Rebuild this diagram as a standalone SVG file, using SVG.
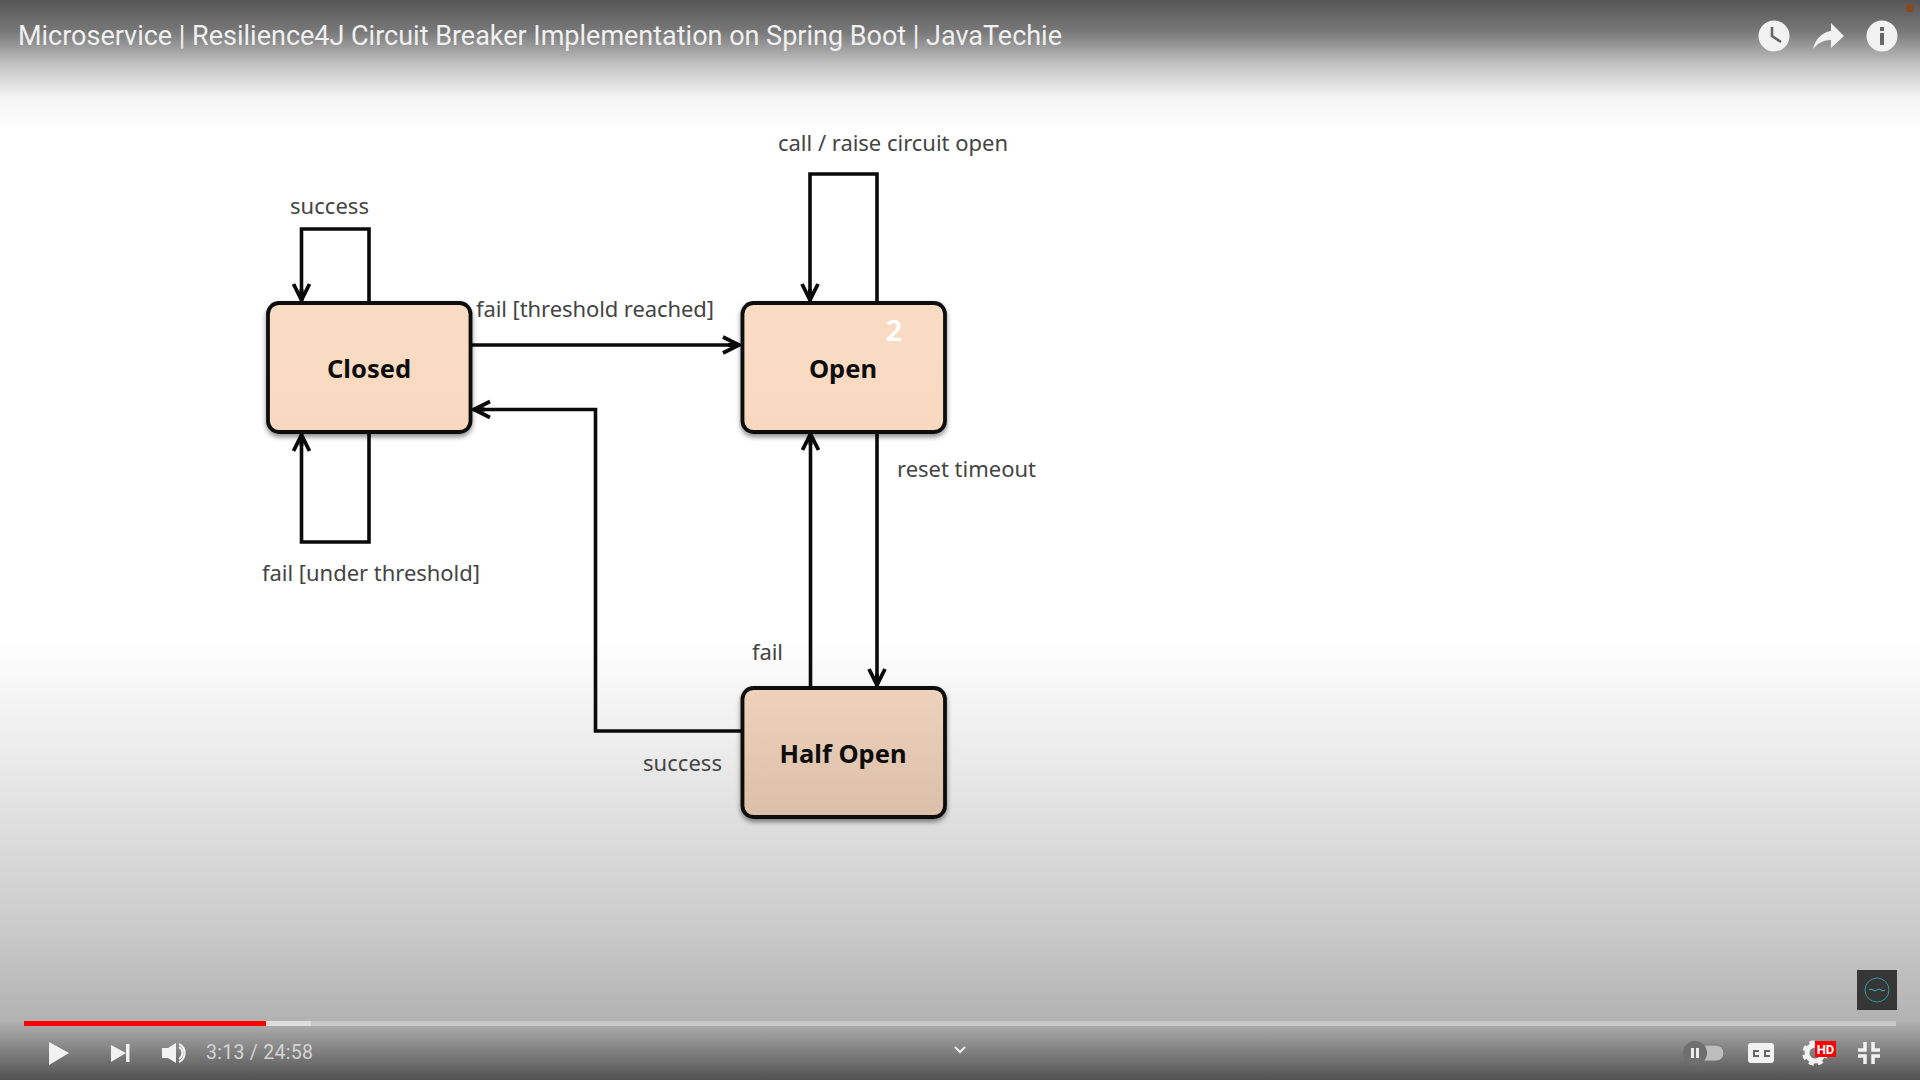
<svg xmlns="http://www.w3.org/2000/svg" width="1920" height="1080" viewBox="0 0 1920 1080">
<defs>
<linearGradient id="bg" x1="0" y1="0" x2="0" y2="1080" gradientUnits="userSpaceOnUse">
<stop offset="0" stop-color="#555"/>
<stop offset="0.03" stop-color="#7a7a7a"/>
<stop offset="0.06" stop-color="#c4c4c4"/>
<stop offset="0.09" stop-color="#f4f4f4"/>
<stop offset="0.12" stop-color="#fff"/>
<stop offset="0.59" stop-color="#fff"/>
<stop offset="0.7" stop-color="#ebebeb"/>
<stop offset="0.85" stop-color="#cdcdcd"/>
<stop offset="0.945" stop-color="#b2b2b2"/>
<stop offset="1" stop-color="#525252"/>
</linearGradient>
<linearGradient id="fill1" x1="0" y1="0" x2="0" y2="1"><stop offset="0" stop-color="#fadcc4"/><stop offset="1" stop-color="#f8d9c0"/></linearGradient>
<linearGradient id="fill2" x1="0" y1="0" x2="0" y2="1"><stop offset="0" stop-color="#efd2bb"/><stop offset="1" stop-color="#dcbfa9"/></linearGradient>
<filter id="sh" x="-10%" y="-10%" width="120%" height="125%"><feDropShadow dx="0" dy="3" stdDeviation="2.5" flood-color="#000" flood-opacity="0.45"/></filter>
<marker id="arr" markerUnits="userSpaceOnUse" markerWidth="24" markerHeight="22" refX="20" refY="11" orient="auto">
<path d="M3 3 L19 11 L3 19 M19 11 L8 11" fill="none" stroke="#0a0a0a" stroke-width="3.8"/>
</marker>
</defs>
<style>
.box{stroke:#0d0d0d;stroke-width:3.8;filter:url(#sh)}
.conn{fill:none;stroke:#0a0a0a;stroke-width:3.6}
.lbl{font-family:"Noto Sans","Open Sans",sans-serif;font-size:22px;fill:#444}
.name{font-family:"Noto Sans","Open Sans",sans-serif;font-size:25.500px;font-weight:700;fill:#0d0d0d;text-anchor:middle}
.ui{font-family:Roboto,"Liberation Sans",sans-serif}
.ic{fill:#f2f2f2}
</style>
<rect id="background" width="1920" height="1080" fill="url(#bg)"/>

<g id="connectors">
<path class="conn" marker-end="url(#arr)" d="M369 303 V229 H301.500 V301"/>
<path class="conn" marker-end="url(#arr)" d="M369 432 V542 H301.500 V434"/>
<path class="conn" marker-end="url(#arr)" d="M471 345 H740"/>
<path class="conn" marker-end="url(#arr)" d="M742 731 H595.500 V409.500 H473"/>
<path class="conn" marker-end="url(#arr)" d="M877 303 V174 H810 V301"/>
<path class="conn" marker-end="url(#arr)" d="M810.500 688 V433"/>
<path class="conn" marker-end="url(#arr)" d="M877 431 V686"/>
</g>

<g id="node-closed">
<rect class="box" x="268" y="303" width="202.500" height="129" rx="11" fill="url(#fill1)"/>
<text class="name" x="369" y="378">Closed</text>
</g>
<g id="node-open">
<rect class="box" x="742.500" y="303" width="202.500" height="129" rx="11" fill="url(#fill1)"/>
<text class="name" x="843" y="378">Open</text>
<text x="894" y="341" font-family="'Noto Sans',sans-serif" font-size="29" font-weight="600" fill="#fff" text-anchor="middle">2</text>
</g>
<g id="node-half-open">
<rect class="box" x="742.500" y="688" width="202.500" height="129" rx="11" fill="url(#fill2)"/>
<text class="name" x="843" y="763">Half Open</text>
</g>

<g id="labels">
<text class="lbl" x="290" y="214" textLength="79">success</text>
<text class="lbl" x="476" y="317" textLength="238">fail [threshold reached]</text>
<text class="lbl" x="262" y="581" textLength="218">fail [under threshold]</text>
<text class="lbl" x="778" y="151" textLength="230">call / raise circuit open</text>
<text class="lbl" x="897" y="477" textLength="139">reset timeout</text>
<text class="lbl" x="752" y="660" textLength="31">fail</text>
<text class="lbl" x="643" y="771" textLength="79">success</text>
</g>

<g id="player">
<text class="ui" x="18" y="45" font-size="27" fill="#f0f0f0" textLength="1044">Microservice | Resilience4J Circuit Breaker Implementation on Spring Boot | JavaTechie</text>
<circle cx="1910" cy="8" r="4" fill="#8a4a20"/>
<circle class="ic" cx="1774" cy="36" r="15.500"/>
<path d="M1772 27 V36 L1781 42" fill="none" stroke="#666" stroke-width="2.600"/>
<path class="ic" d="M1813 49 C1816 37 1824 32 1831 31 V23 L1844 36 L1831 48 V40 C1824 40 1818 43 1813 49Z"/>
<circle class="ic" cx="1882" cy="36" r="15.500"/>
<rect x="1880" y="33" width="4" height="12" fill="#666"/>
<rect x="1880" y="27" width="4" height="4" fill="#666"/>

<rect x="1857" y="970" width="40" height="40" fill="#363636"/>
<circle cx="1877" cy="990" r="12" fill="none" stroke="#2a9d9d" stroke-width="1"/>
<path d="M1869 990 q2-2 4 0 t4 0 t4 0 t4 0" fill="none" stroke="#3fb5b5" stroke-width="1"/>

<rect x="24" y="1021" width="1872" height="5" fill="#c8c8c8"/>
<rect x="24" y="1021" width="287" height="5" fill="#dedede"/>
<rect x="24" y="1021" width="242" height="5" fill="#f00"/>

<path class="ic" d="M49 1042 L69 1053 L49 1065Z"/>
<path class="ic" d="M111 1045 L126 1053 L111 1062Z"/>
<rect class="ic" x="126" y="1044" width="3.500" height="18"/>
<path class="ic" d="M162 1048 H168 L176 1043 V1063 L168 1058 H162Z"/>
<path d="M179 1047 a7 7 0 0 1 0 12 M179 1044 a10 10 0 0 1 0 18" fill="none" stroke="#f2f2f2" stroke-width="2"/>
<text class="ui" x="206" y="1059" font-size="19.500" fill="#d4d4d4" textLength="107">3:13 / 24:58</text>

<path d="M955 1047 L960 1052 L965 1047" fill="none" stroke="#eee" stroke-width="2"/>

<rect x="1695" y="1045" width="29" height="16" rx="8" fill="#bdbdbd" stroke="#777" stroke-width="1"/>
<circle cx="1695" cy="1053" r="12" fill="#6f6f6f"/>
<rect x="1691" y="1048" width="3" height="10" fill="#eee"/>
<rect x="1696" y="1048" width="3" height="10" fill="#eee"/>
<rect class="ic" x="1748" y="1043" width="26" height="20" rx="3"/>
<path d="M1759 1051 H1754 V1056 H1759 M1770 1051 H1765 V1056 H1770" fill="none" stroke="#666" stroke-width="2"/>
<circle cx="1815" cy="1053" r="8" fill="none" stroke="#f2f2f2" stroke-width="5"/>
<circle cx="1815" cy="1053" r="11" fill="none" stroke="#f2f2f2" stroke-width="3.500" stroke-dasharray="5 4.200"/>
<rect x="1815" y="1041" width="21" height="16" fill="#f00"/>
<text class="ui" x="1825.500" y="1054" font-size="13" font-weight="700" fill="#fff" text-anchor="middle">HD</text>
<path d="M1865 1042 V1050 H1858 M1873 1042 V1050 H1880 M1865 1064 V1056 H1858 M1873 1064 V1056 H1880" fill="none" stroke="#f2f2f2" stroke-width="3.500"/>
</g>
</svg>
